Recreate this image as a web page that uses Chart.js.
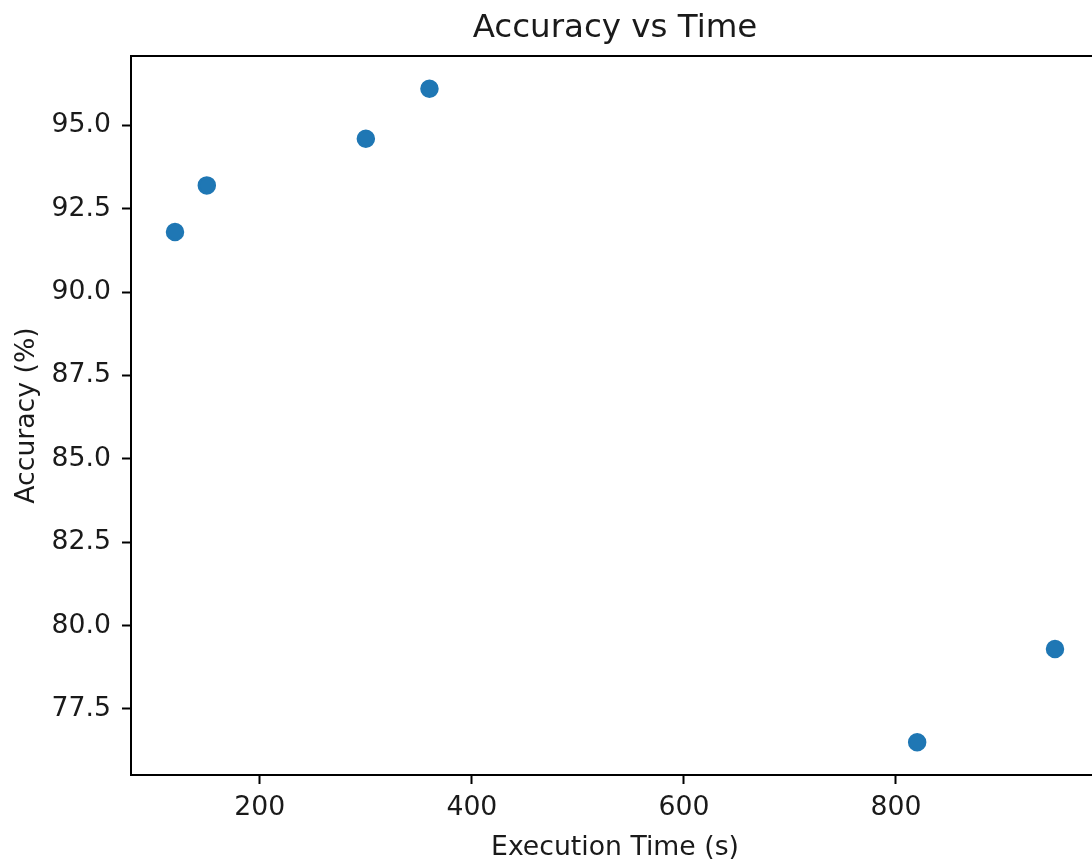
<!DOCTYPE html>
<html>
<head>
<meta charset="utf-8">
<title>Accuracy vs Time</title>
<script src="https://cdn.jsdelivr.net/npm/chart.js@4.4.1/dist/chart.umd.min.js"></script>
<style>
    html, body { margin: 0; padding: 0; overflow: hidden; background: #fff; }
    canvas { display: block; }
</style>
</head>
<body>
<canvas id="scatterChart" width="1230" height="864"></canvas>
<script>
// data
const execTimes = [120, 150, 300, 360, 820, 950];
const accuracies = [91.8, 93.2, 94.6, 96.1, 76.5, 79.3];

const xTicks = [200, 400, 600, 800];
const yTicks = [77.5, 80.0, 82.5, 85.0, 87.5, 90.0, 92.5, 95.0];

// matplotlib style 5% margins
function limits(arr) {
    const lo = Math.min(...arr), hi = Math.max(...arr);
    const m = (hi - lo) * 0.05;
    return [lo - m, hi + m];
}
const [xMin, xMax] = limits(execTimes);
const [yMin, yMax] = limits(accuracies);

const points = execTimes.map((t, i) => ({ x: t, y: accuracies[i] }));

const textColor = '#1a1a1a';
const fontFamily = "'DejaVu Sans', sans-serif";

// top/right spines
const framePlugin = {
    id: 'frame',
    afterDraw(chart) {
        const { ctx, chartArea } = chart;
        ctx.save();
        ctx.strokeStyle = '#000';
        ctx.lineWidth = 2;
        ctx.beginPath();
        ctx.moveTo(chartArea.left, chartArea.top);
        ctx.lineTo(chartArea.right, chartArea.top);
        ctx.lineTo(chartArea.right, chartArea.bottom);
        ctx.stroke();
        ctx.restore();
    }
};

const ctx = document.getElementById('scatterChart').getContext('2d');

new Chart(ctx, {
    type: 'scatter',
    data: {
        datasets: [{
            label: 'Accuracy',
            data: points,
            backgroundColor: '#1f77b4',
            borderColor: '#1f77b4',
            borderWidth: 2.5,
            pointRadius: 8,
            pointHoverRadius: 8
        }]
    },
    options: {
        responsive: false,
        animation: false,
        layout: {
            padding: { left: 0, right: 131, top: 0, bottom: 0 }
        },
        plugins: {
            legend: { display: false },
            tooltip: { enabled: false },
            title: {
                display: true,
                fullSize: false,
                text: 'Accuracy vs Time',
                color: textColor,
                font: { family: fontFamily, size: 32.5, weight: 'normal' },
                padding: { top: 9, bottom: 8 }
            }
        },
        scales: {
            x: {
                type: 'linear',
                min: xMin,
                max: xMax,
                afterBuildTicks: (scale) => {
                    scale.ticks = xTicks.map(v => ({ value: v }));
                },
                afterFit: (scale) => {
                    scale.height = 89;
                },
                grid: {
                    drawOnChartArea: false,
                    drawTicks: true,
                    tickLength: 9,
                    tickWidth: 2,
                    tickColor: '#000'
                },
                border: { display: true, color: '#000', width: 2 },
                ticks: {
                    color: textColor,
                    padding: 8,
                    font: { family: fontFamily, size: 26.7 },
                    callback: (v) => String(v)
                },
                title: {
                    display: true,
                    text: 'Execution Time (s)',
                    color: textColor,
                    font: { family: fontFamily, size: 26.7 },
                    padding: { top: 0, bottom: 0 }
                }
            },
            y: {
                type: 'linear',
                min: yMin,
                max: yMax,
                afterBuildTicks: (scale) => {
                    scale.ticks = yTicks.map(v => ({ value: v }));
                },
                afterFit: (scale) => {
                    scale.width = 131;
                },
                grid: {
                    drawOnChartArea: false,
                    drawTicks: true,
                    tickLength: 9,
                    tickWidth: 2,
                    tickColor: '#000'
                },
                border: { display: true, color: '#000', width: 2 },
                ticks: {
                    color: textColor,
                    padding: 11,
                    font: { family: fontFamily, size: 26.7 },
                    callback: (v) => Number(v).toFixed(1)
                },
                title: {
                    display: true,
                    text: 'Accuracy (%)',
                    color: textColor,
                    font: { family: fontFamily, size: 26.7 },
                    padding: { top: 11, bottom: 0 }
                }
            }
        }
    },
    plugins: [framePlugin]
});
</script>
</body>
</html>
